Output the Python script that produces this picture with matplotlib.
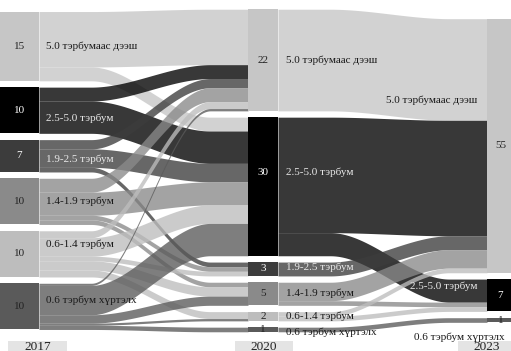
import numpy as np
import matplotlib
matplotlib.use("Agg")
import matplotlib.pyplot as plt

# ---------------- data ----------------
years = ["2017", "2020", "2023"]
categories = ["5.0 тэрбумаас дээш", "2.5-5.0 тэрбум", "1.9-2.5 тэрбум",
              "1.4-1.9 тэрбум", "0.6-1.4 тэрбум", "0.6 тэрбум хүртэлх"]
values_2017 = [15, 10, 7, 10, 10, 10]
values_2020 = [22, 30, 3, 5, 2, 1]
values_2023 = [55, 7, 0, 0, 0, 1]

# flows (source category index, target category index, value)
flows_2017_2020 = [
    (0, 0, 12), (0, 1, 3),
    (1, 0, 3), (1, 1, 7),
    (2, 0, 2), (2, 1, 4), (2, 2, 1),
    (3, 0, 3), (3, 1, 5), (3, 2, 1), (3, 3, 1),
    (4, 0, 1.5), (4, 1, 4), (4, 2, 1), (4, 3, 2), (4, 4, 1.5),
    (5, 0, 0.5), (5, 1, 7), (5, 3, 2), (5, 4, 0.5), (5, 5, 1),
]
flows_2020_2023 = [
    (0, 0, 22),
    (1, 0, 25), (1, 1, 5),
    (2, 0, 3),
    (3, 0, 4), (3, 1, 1),
    (4, 0, 1), (4, 1, 1),
    (5, 5, 1),
]

# ---------------- style / layout ----------------
node_colors = ["#c6c6c6", "#000000", "#3c3c3c", "#8a8a8a", "#bdbdbd", "#5a5a5a"]
text_on_dark = [False, True, True, False, False, False]
link_alpha = 0.78

W, H = 511, 351
scale = 4.62       # px per unit
gap = 6.3          # px between nodes
center_y = 170.5
col_x = [(0, 39), (248, 278), (487, 514)]

plt.rcParams["font.family"] = ["Liberation Serif", "DejaVu Serif"]
fs = 8

fig = plt.figure(figsize=(W / 100, H / 100), dpi=100)
ax = fig.add_axes([0, 0, 1, 1])
ax.set_xlim(0, W)
ax.set_ylim(H, 0)
ax.axis("off")


def layout(vals):
    nz = [v for v in vals if v > 0]
    total = sum(nz) * scale + gap * (len(nz) - 1)
    y = center_y - total / 2
    pos = {}
    for i, v in enumerate(vals):
        if v > 0:
            pos[i] = (y, y + v * scale)
            y += v * scale + gap
    return pos


columns = [values_2017, values_2020, values_2023]
positions = [layout(v) for v in columns]


def smooth(t):
    t = np.clip(t, 0, 1)
    return t * t * (3 - 2 * t)


def draw_links(flows, pos_a, pos_b, vals_a, vals_b, xa, xb):
    out_sum = {}
    in_sum = {}
    for s, t, v in flows:
        out_sum[s] = out_sum.get(s, 0) + v
        in_sum[t] = in_sum.get(t, 0) + v
    src_off = {k: pos_a[k][0] for k in pos_a}
    tgt_off = {k: pos_b[k][0] for k in pos_b}
    src_ends = {}
    for s, t, v in sorted(flows, key=lambda f: (f[0], f[1])):
        h = v / out_sum[s] * vals_a[s] * scale
        src_ends[(s, t)] = (src_off[s], src_off[s] + h)
        src_off[s] += h
    tgt_ends = {}
    for s, t, v in sorted(flows, key=lambda f: (f[1], f[0])):
        h = v / in_sum[t] * vals_b[t] * scale
        tgt_ends[(s, t)] = (tgt_off[t], tgt_off[t] + h)
        tgt_off[t] += h
    xs = np.linspace(xa, xb, 200)
    c0 = xa + 0.25 * (xb - xa)
    c1 = xa + 0.82 * (xb - xa)
    sm = smooth((xs - c0) / (c1 - c0))
    for s, t, v in flows:
        (a0, a1), (b0, b1) = src_ends[(s, t)], tgt_ends[(s, t)]
        top = a0 + (b0 - a0) * sm
        bot = a1 + (b1 - a1) * sm
        ax.fill_between(xs, top, bot, color=node_colors[s], alpha=link_alpha,
                        lw=0, zorder=1)


draw_links(flows_2017_2020, positions[0], positions[1], values_2017, values_2020,
           col_x[0][1], col_x[1][0])
draw_links(flows_2020_2023, positions[1], positions[2], values_2020, values_2023,
           col_x[1][1], col_x[2][0])

# nodes
for c, (vals, pos) in enumerate(zip(columns, positions)):
    x0, x1 = col_x[c]
    for i, (y0, y1) in pos.items():
        ax.add_patch(plt.Rectangle((x0, y0), x1 - x0, y1 - y0,
                                   color=node_colors[i], lw=0, zorder=3))

# value labels and category labels (vertical offsets are layout only)
num_dy = [[0, 0, 0, 0, 0, 0], [0, -14, 0, 0, 0, 0], [0, 0, 0, 0, 0, 0]]
lab_dy = [[0, 8, 3, 0, -10, -6], [0, -14, -2, -1, 0, 3], [-45, -9, 0, 0, 0, 17]]
for c, (vals, pos) in enumerate(zip(columns, positions)):
    x0, x1 = col_x[c]
    xc = (x0 + x1) / 2 if c < 2 else 500.5
    for i, (y0, y1) in pos.items():
        yc = (y0 + y1) / 2
        dark = text_on_dark[i]
        ax.text(xc, yc + num_dy[c][i], f"{vals[i]:g}", ha="center", va="center",
                fontsize=fs, color="white" if dark else "#222222", zorder=5)
        if c < 2:
            ax.text(x1 + (7 if c == 0 else 8), yc + lab_dy[c][i], categories[i],
                    ha="left", va="center", fontsize=fs,
                    color="#e8e8e8" if dark else "#1a1a1a", zorder=5)
        else:
            xr = 477 if i < 5 else 505
            ax.text(xr, yc + lab_dy[c][i], categories[i], ha="right", va="center",
                    fontsize=fs, color="#e8e8e8" if dark else "#1a1a1a", zorder=5)

# year boxes
year_x = [37.5, 264, 487]
year_w = [59, 58, 58]
for yx, yw, yr in zip(year_x, year_w, years):
    ax.add_patch(plt.Rectangle((yx - yw / 2, 341), yw, 20, color="#e4e4e4",
                               lw=0, zorder=2))
    ax.text(yx, 346.5, yr, ha="center", va="center", fontsize=9.5,
            color="#222222", zorder=5)

fig.savefig("out.png", dpi=100)
